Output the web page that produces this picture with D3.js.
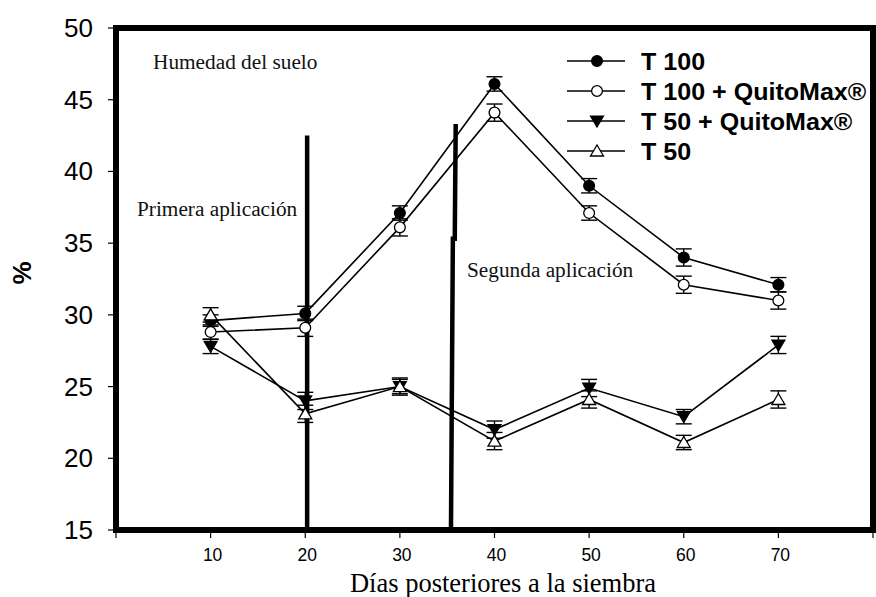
<!DOCTYPE html>
<html>
<head>
<meta charset="utf-8">
<script src="https://cdn.jsdelivr.net/npm/d3@7"></script>
<style>
  html, body { margin: 0; padding: 0; background: #fff; }
  svg { display: block; }
</style>
</head>
<body>
<svg id="chart" width="876" height="597"></svg>
<script>
// Days after sowing
const days = [10, 20, 30, 40, 50, 60, 70];

// Soil moisture (%) per treatment, with standard error
const t100      = [29.6, 30.1, 37.1, 46.1, 39.0, 34.0, 32.1];
const t100Err   = [0.4, 0.5, 0.5, 0.5, 0.5, 0.6, 0.5];
const t100Q     = [28.8, 29.1, 36.1, 44.1, 37.1, 32.1, 31.0];
const t100QErr  = [0.5, 0.6, 0.6, 0.6, 0.5, 0.6, 0.6];
const t50Q      = [27.8, 24.0, 25.0, 22.0, 24.9, 22.9, 27.9];
const t50QErr   = [0.5, 0.6, 0.5, 0.6, 0.6, 0.5, 0.6];
const t50       = [30.0, 23.1, 25.0, 21.2, 24.1, 21.1, 24.1];
const t50Err    = [0.5, 0.6, 0.6, 0.6, 0.6, 0.5, 0.6];

const seriesNames = ["T 100", "T 100 + QuitoMax®", "T 50 + QuitoMax®", "T 50"];

// Axis ticks
const xTicks = [0, 10, 20, 30, 40, 50, 60, 70, 80];
const xTickLabels = [10, 20, 30, 40, 50, 60, 70];
const yTicks = [15, 20, 25, 30, 35, 40, 45, 50];

// Application markers (day, %) drawn as vertical bars
const firstApplication  = [[20.2, 42.5], [20.2, 15]];
const secondApplication = [[35.9, 43.3], [35.8, 35.3], [35.6, 35.3], [35.4, 15]];

const series = [
  { name: seriesNames[0], values: t100,  errs: t100Err,  shape: "circle",   fill: "#000" },
  { name: seriesNames[1], values: t100Q, errs: t100QErr, shape: "circle",   fill: "#fff" },
  { name: seriesNames[2], values: t50Q,  errs: t50QErr,  shape: "triDown",  fill: "#000" },
  { name: seriesNames[3], values: t50,   errs: t50Err,   shape: "triUp",    fill: "#fff" }
];

const svg = d3.select("#chart");
const plotLeft = 116, plotRight = 873, plotTop = 28, plotBottom = 530;

const x = d3.scaleLinear().domain([0, 80]).range([plotLeft, plotRight]);
const y = d3.scaleLinear().domain([15, 50]).range([plotBottom, plotTop]);

// Y axis ticks and labels
const yAxis = svg.append("g");
yAxis.selectAll("line").data(yTicks).join("line")
  .attr("x1", plotLeft - 8).attr("x2", plotLeft)
  .attr("y1", d => y(d)).attr("y2", d => y(d))
  .attr("stroke", "#000").attr("stroke-width", 1.2);
yAxis.selectAll("text").data(yTicks).join("text")
  .attr("x", 93).attr("y", d => y(d) + 9)
  .attr("text-anchor", "end")
  .attr("font-family", "Liberation Sans, Arial, sans-serif")
  .attr("font-size", 26)
  .text(d => d);

// X axis ticks and labels
const xAxis = svg.append("g");
xAxis.selectAll("line").data(xTicks).join("line")
  .attr("x1", d => x(d)).attr("x2", d => x(d))
  .attr("y1", plotBottom).attr("y2", plotBottom + 8)
  .attr("stroke", "#000").attr("stroke-width", 1.2);
xAxis.selectAll("text").data(xTickLabels).join("text")
  .attr("x", d => x(d) + 2).attr("y", 561)
  .attr("text-anchor", "middle")
  .attr("font-family", "Liberation Sans, Arial, sans-serif")
  .attr("font-size", 17.5)
  .text(d => d);

// Axis titles
svg.append("text")
  .attr("x", 503).attr("y", 592)
  .attr("text-anchor", "middle")
  .attr("font-family", "Liberation Serif, Times New Roman, serif")
  .attr("font-size", 26.5)
  .text("Días posteriores a la siembra");

svg.append("text")
  .attr("transform", "translate(31,273) rotate(-90)")
  .attr("text-anchor", "middle")
  .attr("font-family", "Liberation Sans, Arial, sans-serif")
  .attr("font-weight", "bold")
  .attr("font-size", 26)
  .text("%");

// Annotations
const annot = [
  { text: "Humedad del suelo",  x: 153, y: 69 },
  { text: "Primera aplicación", x: 137, y: 216 },
  { text: "Segunda aplicación", x: 467, y: 277 }
];
svg.append("g").selectAll("text").data(annot).join("text")
  .attr("x", d => d.x).attr("y", d => d.y)
  .attr("font-family", "Liberation Serif, Times New Roman, serif")
  .attr("font-size", 21.3)
  .attr("fill", "#111")
  .text(d => d.text);

// Application bars
const appLine = d3.line().x(d => x(d[0])).y(d => y(d[1]));
[firstApplication, secondApplication].forEach(pts => {
  svg.append("path")
    .attr("d", appLine(pts))
    .attr("fill", "none")
    .attr("stroke", "#000")
    .attr("stroke-width", 4.5);
});

// Series lines
const line = d3.line().x((d, i) => x(days[i])).y(d => y(d));
const plot = svg.append("g");
series.forEach(s => {
  plot.append("path")
    .attr("d", line(s.values))
    .attr("fill", "none")
    .attr("stroke", "#000")
    .attr("stroke-width", 1.6);
});

// Error bars
series.forEach(s => {
  const g = plot.append("g").attr("stroke", "#000").attr("stroke-width", 1.4);
  s.values.forEach((v, i) => {
    const cx = x(days[i]);
    const y1 = y(v + s.errs[i]), y2 = y(v - s.errs[i]);
    g.append("line").attr("x1", cx).attr("x2", cx).attr("y1", y1).attr("y2", y2);
    g.append("line").attr("x1", cx - 8).attr("x2", cx + 8).attr("y1", y1).attr("y2", y1);
    g.append("line").attr("x1", cx - 8).attr("x2", cx + 8).attr("y1", y2).attr("y2", y2);
  });
});

// Marker drawing
function marker(g, shape, fill, cx, cy) {
  if (shape === "circle") {
    g.append("circle").attr("cx", cx).attr("cy", cy).attr("r", 5.4)
      .attr("fill", fill).attr("stroke", "#000").attr("stroke-width", 1.3);
  } else if (shape === "triDown") {
    g.append("path")
      .attr("d", `M${cx - 6.5},${cy - 5} L${cx + 6.5},${cy - 5} L${cx},${cy + 6} Z`)
      .attr("fill", fill).attr("stroke", "#000").attr("stroke-width", 1.2);
  } else {
    g.append("path")
      .attr("d", `M${cx - 6.5},${cy + 5} L${cx + 6.5},${cy + 5} L${cx},${cy - 6} Z`)
      .attr("fill", fill).attr("stroke", "#000").attr("stroke-width", 1.3);
  }
}

series.forEach(s => {
  const g = plot.append("g");
  s.values.forEach((v, i) => marker(g, s.shape, s.fill, x(days[i]), y(v)));
});

// Legend
const legendRows = [61, 91, 121, 151];
const legend = svg.append("g");
series.forEach((s, i) => {
  const ly = legendRows[i];
  legend.append("line")
    .attr("x1", 567).attr("x2", 625).attr("y1", ly).attr("y2", ly)
    .attr("stroke", "#000").attr("stroke-width", 1.6);
  marker(legend, s.shape, s.fill, 597, ly);
  legend.append("text")
    .attr("transform", `translate(641,${ly + 8.5}) scale(1.09,1)`)
    .attr("font-family", "Liberation Sans, Arial, sans-serif")
    .attr("font-weight", "bold")
    .attr("font-size", 23)
    .text(s.name);
});

// Plot frame
svg.append("rect")
  .attr("x", plotLeft).attr("y", plotTop)
  .attr("width", plotRight - plotLeft).attr("height", plotBottom - plotTop)
  .attr("fill", "none")
  .attr("stroke", "#000")
  .attr("stroke-width", 6);
</script>
</body>
</html>
